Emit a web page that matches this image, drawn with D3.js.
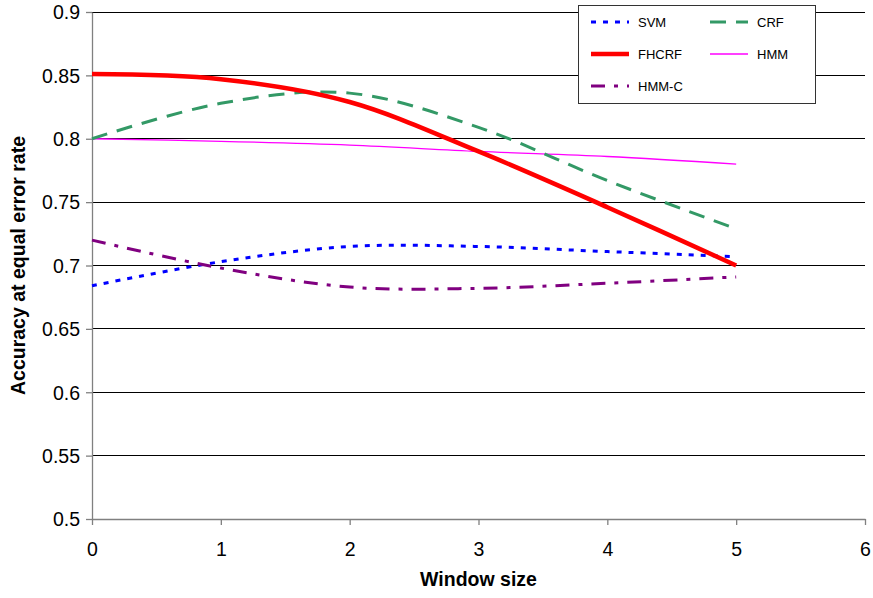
<!DOCTYPE html>
<html>
<head>
<meta charset="utf-8">
<script src="https://cdn.jsdelivr.net/npm/d3@7"></script>
<style>
  body { margin: 0; background: #fff; }
  text { font-family: "Liberation Sans", Arial, sans-serif; }
</style>
</head>
<body>
<svg id="chart" width="873" height="598"></svg>
<script>
// Window sizes evaluated
const windowSizes = [0, 1, 2, 3, 4, 5];

// Accuracy at equal error rate for each model
const svm   = [0.684, 0.703, 0.715, 0.715, 0.711, 0.707];
const crf   = [0.800, 0.828, 0.836, 0.809, 0.767, 0.729];
const fhcrf = [0.851, 0.847, 0.829, 0.790, 0.746, 0.700];
const hmm   = [0.800, 0.798, 0.795, 0.790, 0.786, 0.780];
const hmmc  = [0.720, 0.698, 0.683, 0.682, 0.686, 0.691];

const xTicks = [0, 1, 2, 3, 4, 5, 6];
const yTicks = [0.5, 0.55, 0.6, 0.65, 0.7, 0.75, 0.8, 0.85, 0.9];

const series = [
  { name: "SVM",   values: svm,   color: "#0000ff", width: 3,   dash: "5,7" },
  { name: "CRF",   values: crf,   color: "#339966", width: 3,   dash: "16,10" },
  { name: "FHCRF", values: fhcrf, color: "#ff0000", width: 4.5, dash: null },
  { name: "HMM",   values: hmm,   color: "#ff00ff", width: 1.3, dash: null },
  { name: "HMM-C", values: hmmc,  color: "#800080", width: 3,   dash: "14,9,4,9" }
];

const svg = d3.select("#chart");
const margin = { left: 92, right: 8, top: 12, bottom: 79 };
const W = 873, H = 598;

const x = d3.scaleLinear().domain([0, 6]).range([margin.left, W - margin.right]);
const y = d3.scaleLinear().domain([0.5, 0.9]).range([H - margin.bottom, margin.top]);

// Horizontal gridlines
svg.append("g")
  .selectAll("line")
  .data(yTicks.filter(d => d > 0.5))
  .join("line")
  .attr("x1", x(0)).attr("x2", x(6))
  .attr("y1", d => y(d)).attr("y2", d => y(d))
  .attr("stroke", "#000").attr("stroke-width", 1)
  .attr("shape-rendering", "crispEdges");

// Axes
const xAxis = svg.append("g")
  .attr("transform", `translate(0,${y(0.5)})`)
  .call(d3.axisBottom(x).tickValues(xTicks).tickFormat(d3.format("d")).tickSize(6).tickSizeOuter(0));
const yAxis = svg.append("g")
  .attr("transform", `translate(${x(0)},0)`)
  .call(d3.axisLeft(y).tickValues(yTicks).tickFormat(d => d3.format("")(+d.toFixed(2))).tickSize(6).tickSizeOuter(0));

[xAxis, yAxis].forEach(a => {
  a.select(".domain").attr("stroke", "#808080").attr("stroke-width", 1.3);
  a.selectAll(".tick line").attr("stroke", "#808080").attr("stroke-width", 1.3);
  a.selectAll(".tick text").attr("fill", "#000").style("font-size", "19.5px")
    .style("font-family", "'Liberation Sans', Arial, sans-serif");
});
xAxis.selectAll(".tick text").attr("y", 37).attr("dy", "0");
yAxis.selectAll(".tick text").attr("x", -12).attr("dy", "0.35em");

// Axis titles
svg.append("text")
  .attr("x", (x(0) + x(6)) / 2).attr("y", 586)
  .attr("text-anchor", "middle")
  .style("font-size", "19.5px").style("font-weight", "bold")
  .text("Window size");
svg.append("text")
  .attr("transform", `translate(25,${(y(0.5) + y(0.9)) / 2}) rotate(-90)`)
  .attr("text-anchor", "middle")
  .style("font-size", "19.5px").style("font-weight", "bold")
  .text("Accuracy at equal error rate");

// Smoothed series lines
const line = d3.line()
  .x((d, i) => x(windowSizes[i]))
  .y(d => y(d))
  .curve(d3.curveCardinal.tension(0));

const order = ["HMM", "SVM", "HMM-C", "CRF", "FHCRF"];
order.forEach(n => {
  const s = series.find(t => t.name === n);
  svg.append("path")
    .datum(s.values)
    .attr("d", line)
    .attr("fill", "none")
    .attr("stroke", s.color)
    .attr("stroke-width", s.width)
    .attr("stroke-dasharray", s.dash)
    .attr("stroke-linecap", "butt");
});

// Legend
const lg = svg.append("g");
lg.append("rect")
  .attr("x", 578.5).attr("y", 5.5).attr("width", 237).attr("height", 98)
  .attr("fill", "#fff").attr("stroke", "#333").attr("stroke-width", 1);

const legendPos = [
  { name: "SVM",   col: 0, row: 0 },
  { name: "CRF",   col: 1, row: 0 },
  { name: "FHCRF", col: 0, row: 1 },
  { name: "HMM",   col: 1, row: 1 },
  { name: "HMM-C", col: 0, row: 2 }
];
const colX = [591, 710];
const rowY = [22, 54, 86];
legendPos.forEach(p => {
  const s = series.find(t => t.name === p.name);
  const lx = colX[p.col], ly = rowY[p.row];
  lg.append("line")
    .attr("x1", lx).attr("x2", lx + 38)
    .attr("y1", ly).attr("y2", ly)
    .attr("stroke", s.color)
    .attr("stroke-width", s.width)
    .attr("stroke-dasharray", s.dash);
  lg.append("text")
    .attr("x", lx + 47).attr("y", ly + 5)
    .style("font-size", "13px")
    .text(s.name);
});
</script>
</body>
</html>
